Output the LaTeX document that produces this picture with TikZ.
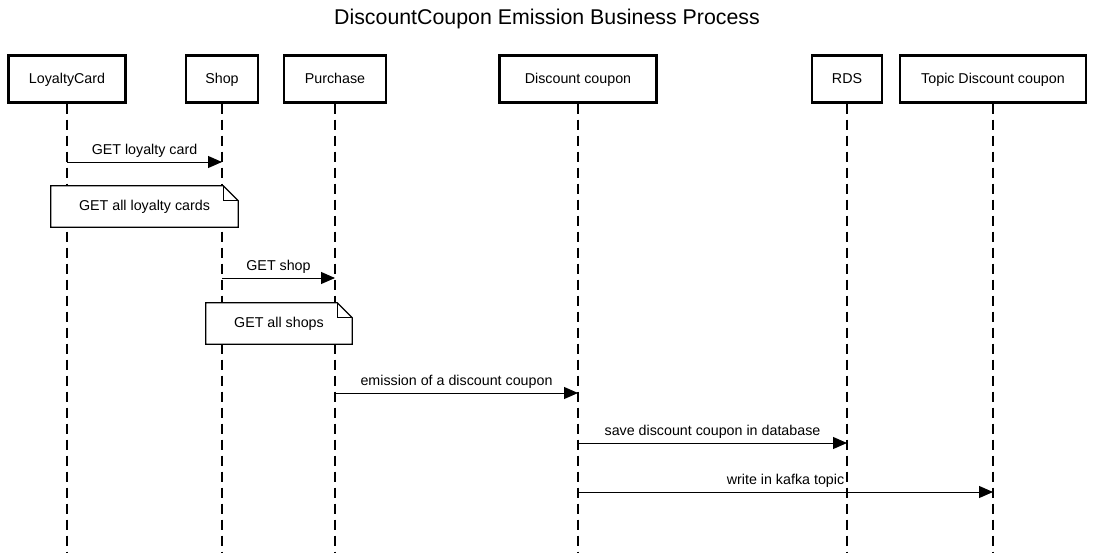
\documentclass[tikz,border=0pt]{standalone}
\usepackage{fontspec}
\setmainfont{Liberation Sans}
\usetikzlibrary{arrows.meta}
\begin{document}
\begin{tikzpicture}[x=0.75pt,y=-0.75pt,
  actor/.style={draw,line width=1.6pt,fill=white,inner sep=0pt,text height=7.2pt,text depth=0pt,font=\fontsize{10.7}{12}\selectfont},
  lifeline/.style={line width=0.9pt,dash pattern=on 7.5pt off 4.5pt},
  msg/.style={line width=0.75pt,-{Triangle[length=10.5pt,width=9pt]}},
  lbl/.style={font=\fontsize{10.7}{12}\selectfont,above=2.2pt,inner sep=1pt},
  notebox/.style={fill=white,inner sep=0pt,font=\fontsize{10.7}{12}\selectfont},
  noteline/.style={line width=0.9pt,line join=miter}]
\useasboundingbox (0,0) rectangle (1094,553);
\node[font=\fontsize{16}{19}\selectfont] (title) at (547,19) {DiscountCoupon Emission Business Process};
% lifeline ends
\coordinate (lcE) at (67,553);
\coordinate (shE) at (222,553);
\coordinate (puE) at (335,553);
\coordinate (dcE) at (578,553);
\coordinate (rdE) at (847,553);
\coordinate (tdE) at (993,553);
\node[actor,minimum width=87.75pt,minimum height=35.25pt] (lc) at (67,79) {LoyaltyCard};
\node[actor,minimum width=54pt,minimum height=35.25pt] (sh) at (222,79) {Shop};
\node[actor,minimum width=76.5pt,minimum height=35.25pt] (pu) at (335,79) {Purchase};
\node[actor,minimum width=117.75pt,minimum height=35.25pt] (dc) at (578,79) {Discount coupon};
\node[actor,minimum width=52.5pt,minimum height=35.25pt] (rd) at (847,79) {RDS};
\node[actor,minimum width=139.5pt,minimum height=35.25pt] (td) at (993,79) {Topic Discount coupon};
\draw[lifeline] (lc.south) -- (lcE);
\draw[lifeline] (sh.south) -- (shE);
\draw[lifeline] (pu.south) -- (puE);
\draw[lifeline] (dc.south) -- (dcE);
\draw[lifeline] (rd.south) -- (rdE);
\draw[lifeline] (td.south) -- (tdE);
% message endpoints
\coordinate (m1a) at (67,162);  \coordinate (m1b) at (222,162);
\coordinate (m2a) at (222,278); \coordinate (m2b) at (335,278);
\coordinate (m3a) at (335,393); \coordinate (m3b) at (578,393);
\coordinate (m4a) at (578,443); \coordinate (m4b) at (847,443);
\coordinate (m5a) at (578,492); \coordinate (m5b) at (993,492);
\draw[msg] (m1a) -- node[lbl]{GET loyalty card} (m1b);
\draw[msg] (m2a) -- node[lbl]{GET shop} (m2b);
\draw[msg] (m3a) -- node[lbl]{emission of a discount coupon} (m3b);
\draw[msg] (m4a) -- node[lbl]{save discount coupon in database} (m4b);
\draw[msg] (m5a) -- node[lbl]{write in kafka topic} (m5b);
% notes
\node[notebox,minimum width=140.25pt,minimum height=30.75pt] (n1) at (144.5,206.5) {GET all loyalty cards};
\draw[noteline] (n1.south west) -- (n1.north west) -- ([xshift=-11.25pt]n1.north east) -- ([yshift=-11.25pt]n1.north east) -- (n1.south east) -- cycle;
\draw[noteline] ([xshift=-11.25pt]n1.north east) -- ([xshift=-11.25pt,yshift=-11.25pt]n1.north east) -- ([yshift=-11.25pt]n1.north east);
\node[notebox,minimum width=109.5pt,minimum height=30.75pt] (n2) at (279,323.5) {GET all shops};
\draw[noteline] (n2.south west) -- (n2.north west) -- ([xshift=-11.25pt]n2.north east) -- ([yshift=-11.25pt]n2.north east) -- (n2.south east) -- cycle;
\draw[noteline] ([xshift=-11.25pt]n2.north east) -- ([xshift=-11.25pt,yshift=-11.25pt]n2.north east) -- ([yshift=-11.25pt]n2.north east);
\end{tikzpicture}
\end{document}
